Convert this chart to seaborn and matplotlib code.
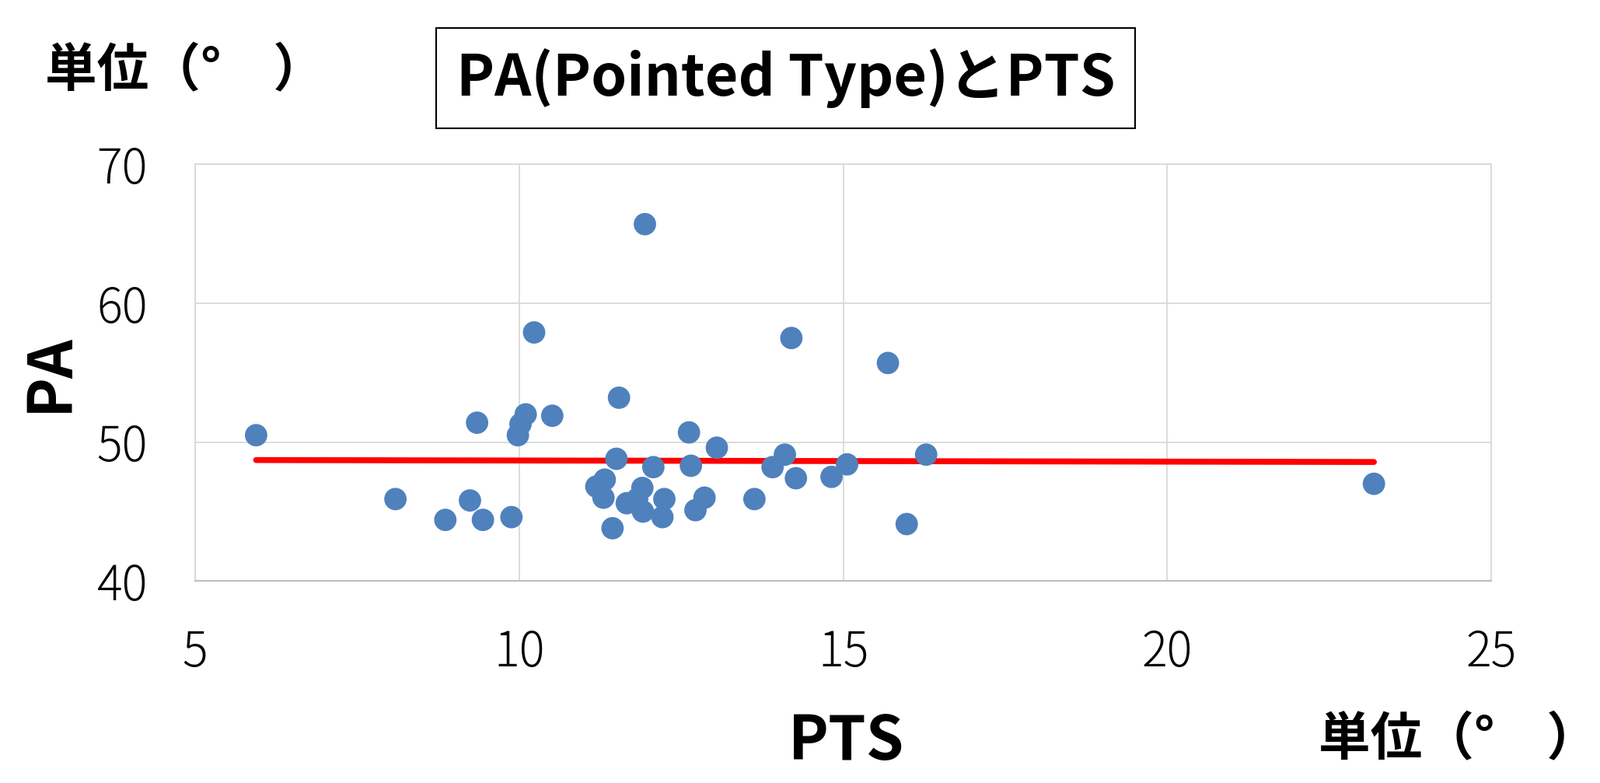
import pandas as pd
import matplotlib
matplotlib.use("Agg")
import matplotlib.pyplot as plt
import seaborn as sns

sns.set_theme(style="white")
plt.rcParams['font.family'] = ['Noto Sans CJK JP', 'DejaVu Sans']
plt.rcParams['axes.unicode_minus'] = False
plt.rcParams['text.color'] = 'black'

# values
pts = [5.94, 8.09, 8.86, 9.24, 9.35, 9.44, 9.88, 9.98, 10.02, 10.10,
       10.23, 10.51, 11.19, 11.30, 11.32, 11.44, 11.50, 11.54, 11.66, 11.82,
       11.90, 11.91, 11.94, 12.07, 12.21, 12.24, 12.62, 12.65, 12.72, 12.86,
       13.05, 13.63, 13.91, 14.10, 14.20, 14.27, 14.82, 15.06, 15.69, 15.98,
       16.28, 23.19]
pa = [50.5, 45.9, 44.4, 45.8, 51.4, 44.4, 44.6, 50.5, 51.3, 52.0,
      57.9, 51.9, 46.8, 46.0, 47.3, 43.8, 48.8, 53.2, 45.6, 45.9,
      46.7, 45.0, 65.7, 48.2, 44.6, 45.9, 50.7, 48.3, 45.1, 46.0,
      49.6, 45.9, 48.2, 49.1, 57.5, 47.4, 47.5, 48.4, 55.7, 44.1,
      49.1, 47.0]
x_ticks = [5, 10, 15, 20, 25]
y_ticks = [40, 50, 60, 70]

df = pd.DataFrame({'PTS': pts, 'PA': pa})

fig = plt.figure(figsize=(20.58, 10.07), dpi=100)
ax = fig.add_axes([0.122, 0.258, 0.810, 0.532])

sns.scatterplot(data=df, x='PTS', y='PA', ax=ax, color='#4F81BD', s=430,
                edgecolor='none', zorder=3)
sns.regplot(data=df, x='PTS', y='PA', ax=ax, scatter=False, ci=None,
            truncate=True, color='#FF0000',
            line_kws={'linewidth': 5.5, 'solid_capstyle': 'round', 'zorder': 2})

ax.set_xlim(5, 25)
ax.set_ylim(40, 70)
ax.set_xticks(x_ticks)
ax.set_yticks(y_ticks)
ax.grid(True, color='#D9D9D9', linewidth=1.3)
ax.set_axisbelow(True)
for side in ['top', 'left', 'right']:
    ax.spines[side].set_color('#D9D9D9')
    ax.spines[side].set_linewidth(1.3)
ax.spines['bottom'].set_color('#BFBFBF')
ax.spines['bottom'].set_linewidth(1.6)
ax.tick_params(axis='both', length=0, labelsize=44, pad=44, labelcolor='black')
for lab in ax.get_xticklabels() + ax.get_yticklabels():
    lab.set_fontweight('light')
ax.set_xlabel('')
ax.set_ylabel('')

unit = '単位（°　）'
fig.text(0.529, 0.052, 'PTS', fontsize=56, fontweight='bold', ha='center', va='center', color='black')
fig.text(0.031, 0.524, 'PA', fontsize=56, fontweight='bold', ha='center', va='center', rotation=90, color='black')
fig.text(0.028, 0.909, unit, fontsize=48, fontweight='bold', ha='left', va='center', color='black')
fig.text(0.824, 0.055, unit, fontsize=48, fontweight='bold', ha='left', va='center', color='black')

fig.text(0.491, 0.900, 'PA(Pointed Type)とPTS', fontsize=53, fontweight='bold',
         ha='center', va='center', color='black',
         bbox=dict(boxstyle='square,pad=0.35', facecolor='white', edgecolor='black', linewidth=1.5))

fig.savefig('out.png', dpi=100)
